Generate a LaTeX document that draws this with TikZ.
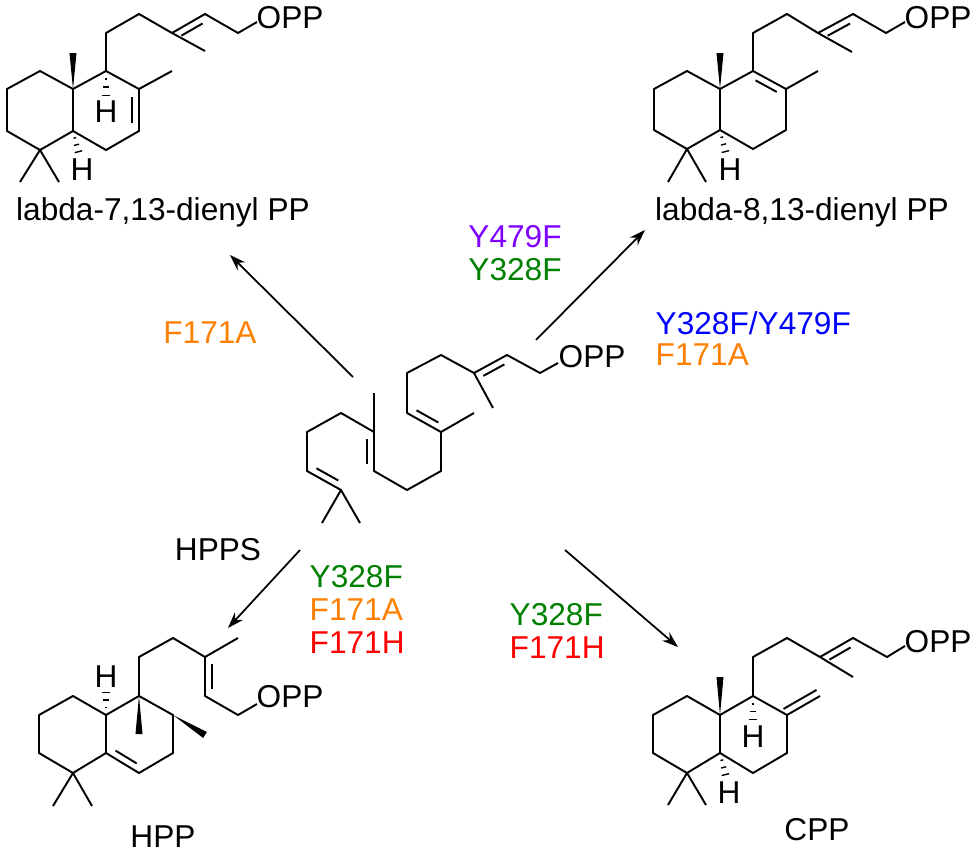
\documentclass[tikz,border=0pt]{standalone}
\usepackage{fontspec}
\setmainfont{Liberation Sans}
\usetikzlibrary{calc, arrows.meta}
\definecolor{mutorange}{RGB}{255,128,0}
\definecolor{mutpurple}{RGB}{128,0,255}
\definecolor{mutgreen}{RGB}{0,128,0}
\definecolor{mutblue}{RGB}{0,0,255}
\definecolor{mutred}{RGB}{255,0,0}
% inner line of a double bond, on the left / right of #1 -> #2
\newcommand{\dbl}[2]{\draw ($(#1)!0.18!(#2)!0.14cm!90:(#2)$) -- ($(#2)!0.18!(#1)!0.14cm!-90:(#1)$);}
\newcommand{\dbr}[2]{\draw ($(#1)!0.18!(#2)!0.14cm!-90:(#2)$) -- ($(#2)!0.18!(#1)!0.14cm!90:(#1)$);}
% wedge and hashed bonds
\newcommand{\wedgeb}[2]{\fill (#1) -- ($(#2)!2pt!90:(#1)$) -- ($(#2)!2pt!-90:(#1)$) -- cycle;}
\newcommand{\hashb}[2]{\foreach \hp/\hw in {0.3/0.8,0.6/1.5,0.9/2.2} {\draw[line width=0.8pt] ($(#1)!\hp!(#2)!\hw pt!90:(#2)$) -- ($(#1)!\hp!(#2)!\hw pt!-90:(#2)$);}}
\begin{document}
\begin{tikzpicture}[
    x=0.02cm, y=-0.02cm,
    line width=1.1pt, line join=round,
    every node/.style={font=\fontsize{18}{21}\selectfont, inner sep=1pt},
    opp/.style={anchor=west},
    arrow/.style={-{Stealth[length=0.32cm, width=0.22cm]}, line width=1pt}
]
    \useasboundingbox (0,0) rectangle (975,852);

    % labda-7,13-dienyl PP
    \draw (40,71) -- (7,89) -- (7,131) -- (40,150) -- (73,131) -- (73,89) -- cycle;
    \draw (73,89) -- (106,71) -- (139,89) -- (139,131) -- (106,150) -- (73,131);
    \draw (20,182) -- (40,150) -- (59,182);
    \draw (139,89) -- (172,71);
    \draw (106,71) -- (106,33) -- (139,14) -- (172,33) -- (205,14) -- (238,33) -- (257,22);
    \draw (172,33) -- (205,51);
    \dbr{139,89}{139,131}
    \dbr{172,33}{205,14}
    \wedgeb{73,89}{73,53}
    \hashb{106,71}{106,98}
    \hashb{73,131}{79,154}
    \node (h1a) at (106,112) {H};
    \node (h1b) at (82,170) {H};
    \node[opp] (opp1) at (254,18) {OPP};
    \node (labda7) at (163,212) {labda-7,13-dienyl PP};

    % labda-8,13-dienyl PP
    \draw (687,71) -- (654,89) -- (654,130) -- (687,149) -- (720,130) -- (720,89) -- cycle;
    \draw (720,89) -- (753,71) -- (786,89) -- (786,130) -- (753,149) -- (720,130);
    \draw (668,182) -- (687,149) -- (706,182);
    \draw (786,89) -- (818,71);
    \draw (753,71) -- (753,33) -- (787,14) -- (818,33) -- (853,14) -- (886,33) -- (905,22);
    \draw (818,33) -- (852,52);
    \dbr{753,71}{786,89}
    \dbr{818,33}{853,14}
    \wedgeb{720,89}{720,53}
    \hashb{720,130}{726,154}
    \node (h2) at (730,170) {H};
    \node[opp] (opp2) at (902,18) {OPP};
    \node (labda8) at (802,212) {labda-8,13-dienyl PP};

    % GGPP (substrate)
    \draw (558,363) -- (540,373) -- (507,355) -- (474,373) -- (441,355) -- (407,373) -- (407,413)
        -- (441,432) -- (441,471) -- (407,490) -- (374,471) -- (374,432) -- (341,413) -- (307,432)
        -- (307,471) -- (341,490);
    \draw (474,373) -- (493,408);
    \draw (441,432) -- (474,413);
    \draw (374,432) -- (374,393);
    \draw (322,523) -- (341,490) -- (360,523);
    \dbl{507,355}{474,373}
    \dbl{407,413}{441,432}
    \dbl{374,471}{374,432}
    \dbl{307,471}{341,490}
    \node[opp] (opp0) at (556,357) {OPP};
    \coordinate (sub-ul) at (353,377);
    \coordinate (sub-ur) at (536,340);
    \coordinate (sub-ll) at (300,550);
    \coordinate (sub-lr) at (565,550);

    % HPP
    \draw (73,696) -- (39,715) -- (39,753) -- (73,773) -- (106,753) -- (106,715) -- cycle;
    \draw (106,715) -- (139,696) -- (173,715) -- (173,753) -- (139,773) -- (106,753);
    \draw (53,806) -- (73,773) -- (92,806);
    \draw (139,696) -- (139,657) -- (173,638) -- (205,657) -- (205,696) -- (238,715) -- (257,704);
    \draw (205,657) -- (238,638);
    \dbl{106,753}{139,773}
    \dbl{205,657}{205,696}
    \wedgeb{139,696}{139,734}
    \wedgeb{173,715}{205,735}
    \hashb{106,715}{106,690}
    \node (h4) at (106,677) {H};
    \node[opp] (opp4) at (254,697) {OPP};
    \node (hpp) at (163,837) {HPP};

    % CPP
    \draw (687,696) -- (653,715) -- (653,753) -- (687,773) -- (720,753) -- (720,715) -- cycle;
    \draw (720,715) -- (753,696) -- (787,715) -- (787,753) -- (753,773) -- (720,753);
    \draw (668,805) -- (687,773) -- (706,805);
    \draw (787,715) -- (820,696);
    \draw (753,696) -- (753,657) -- (787,638) -- (820,657) -- (853,638) -- (887,657) -- (905,646);
    \draw (820,657) -- (853,677);
    \draw ($(787,715)!0.14cm!90:(820,696)$) -- ($(820,696)!0.14cm!-90:(787,715)$);
    \dbr{820,657}{853,638}
    \wedgeb{720,715}{720,677}
    \hashb{753,696}{753,722}
    \hashb{720,753}{726,777}
    \node (h5a) at (753,737) {H};
    \node (h5b) at (729,793) {H};
    \node[opp] (opp5) at (902,642) {OPP};
    \node (cpp) at (817,830) {CPP};

    % reaction arrows
    \draw[arrow] (sub-ul) -- (230,255);
    \draw[arrow] (sub-ur) -- (645,230);
    \draw[arrow] (sub-ll) -- (228,628);
    \draw[arrow] (sub-lr) -- (678,647);

    % enzyme and mutants
    \node[text=mutorange] (m1) at (210,333) {F171A};
    \node[text=mutpurple] (m2) at (515,237) {Y479F};
    \node[text=mutgreen] (m3) at (515,270) {Y328F};
    \node[text=mutblue, anchor=west] (m4) at (653,323) {Y328F/Y479F};
    \node[text=mutorange, anchor=west] (m5) at (653,355) {F171A};
    \node (hpps) at (218,550) {HPPS};
    \node[text=mutgreen, anchor=west] (m6) at (307,577) {Y328F};
    \node[text=mutorange, anchor=west] (m7) at (307,610) {F171A};
    \node[text=mutred, anchor=west] (m8) at (307,643) {F171H};
    \node[text=mutgreen, anchor=west] (m9) at (507,615) {Y328F};
    \node[text=mutred, anchor=west] (m10) at (507,648) {F171H};
\end{tikzpicture}
\end{document}
